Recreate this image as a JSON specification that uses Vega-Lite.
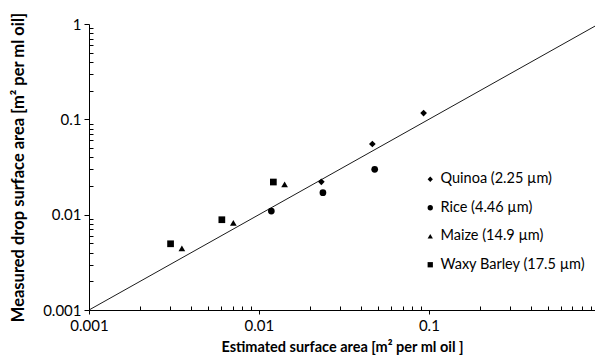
{
  "$schema": "https://vega.github.io/schema/vega-lite/v6.json",
  "width": 506,
  "height": 286,
  "autosize": {"type": "none"},
  "padding": {"left": 89, "top": 24, "right": 0, "bottom": 51},
  "background": "white",
  "config": {
    "font": "Lato",
    "view": {"stroke": null},
    "axis": {"grid": false, "domainColor": "black", "tickColor": "black", "labelColor": "black", "titleColor": "black", "labelFont": "Lato", "titleFont": "Lato"}
  },
  "datasets": {
    "pts": [
      {"x": 0.0233, "y": 0.0221, "series": "Quinoa (2.25 µm)"},
      {"x": 0.0465, "y": 0.0551, "series": "Quinoa (2.25 µm)"},
      {"x": 0.0931, "y": 0.1164, "series": "Quinoa (2.25 µm)"},
      {"x": 0.01183, "y": 0.0109, "series": "Rice (4.46 µm)"},
      {"x": 0.0238, "y": 0.0170, "series": "Rice (4.46 µm)"},
      {"x": 0.048, "y": 0.0299, "series": "Rice (4.46 µm)"},
      {"x": 0.00352, "y": 0.00443, "series": "Maize (14.9 µm)"},
      {"x": 0.00707, "y": 0.00822, "series": "Maize (14.9 µm)"},
      {"x": 0.01416, "y": 0.0208, "series": "Maize (14.9 µm)"},
      {"x": 0.00302, "y": 0.00495, "series": "Waxy Barley (17.5 µm)"},
      {"x": 0.00605, "y": 0.00885, "series": "Waxy Barley (17.5 µm)"},
      {"x": 0.01216, "y": 0.022, "series": "Waxy Barley (17.5 µm)"}
    ],
    "diag": [
      {"x": 0.001, "y": 0.001},
      {"x": 1, "y": 1}
    ]
  },
  "layer": [
    {
      "data": {"name": "diag"},
      "mark": {"type": "line", "color": "black", "strokeWidth": 0.9, "clip": true},
      "encoding": {
        "x": {
          "field": "x", "type": "quantitative",
          "scale": {"type": "log", "domain": [0.001, 0.95], "nice": false},
          "axis": {
            "title": "Estimated surface area [m² per ml oil ]",
            "titleFontSize": 14.5, "titleFontWeight": "bold", "titlePadding": 7,
            "values": [0.001,0.002,0.003,0.004,0.005,0.006,0.007,0.008,0.009,0.01,0.02,0.03,0.04,0.05,0.06,0.07,0.08,0.09,0.1,0.2,0.3,0.4,0.5,0.6,0.7,0.8,0.9],
            "labelExpr": "datum.value==0.001?'0.001':datum.value==0.01?'0.01':datum.value==0.1?'0.1':''",
            "labelFontSize": 15, "labelOverlap": false, "labelBound": false, "labelFlush": false, "labelPadding": 4,
            "tickSize": {"condition": {"test": "datum.value==0.001||datum.value==0.01||datum.value==0.1", "value": 4}, "value": -4},
            "domainWidth": 1
          }
        },
        "y": {
          "field": "y", "type": "quantitative",
          "scale": {"type": "log", "domain": [0.001, 1], "nice": false},
          "axis": {
            "title": "Measured drop  surface area [m² per ml oil]",
            "titleFontSize": 16.5, "titleFontWeight": "bold", "titlePadding": 16,
            "values": [0.001,0.002,0.003,0.004,0.005,0.006,0.007,0.008,0.009,0.01,0.02,0.03,0.04,0.05,0.06,0.07,0.08,0.09,0.1,0.2,0.3,0.4,0.5,0.6,0.7,0.8,0.9,1],
            "labelExpr": "datum.value==0.001?'0.001':datum.value==0.01?'0.01':datum.value==0.1?'0.1':datum.value==1?'1':''",
            "labelFontSize": 15, "labelOverlap": false, "labelBound": false, "labelFlush": false, "labelPadding": 3,
            "tickSize": {"condition": {"test": "datum.value==0.001||datum.value==0.01||datum.value==0.1||datum.value==1", "value": 5}, "value": -4},
            "domainWidth": 1
          }
        }
      }
    },
    {
      "mark": {"type": "rule", "color": "#6b6b6b", "strokeWidth": 1.6},
      "encoding": {"y": {"datum": 1, "type": "quantitative"}}
    },
    {
      "data": {"name": "pts"},
      "mark": {"type": "point", "filled": true, "opacity": 1, "color": "black", "size": 45},
      "encoding": {
        "x": {"field": "x", "type": "quantitative"},
        "y": {"field": "y", "type": "quantitative"},
        "shape": {
          "field": "series", "type": "nominal",
          "scale": {"domain": ["Quinoa (2.25 µm)", "Rice (4.46 µm)", "Maize (14.9 µm)", "Waxy Barley (17.5 µm)"], "range": ["diamond", "circle", "triangle-up", "square"]},
          "legend": {
            "title": null, "orient": "none", "legendX": 334, "legendY": 148,
            "labelFontSize": 14.5, "labelFont": "Lato", "labelColor": "black", "labelLimit": 400,
            "symbolSize": 28, "symbolFillColor": "black", "symbolStrokeColor": "black",
            "rowPadding": 13.5, "labelOffset": 3
          }
        }
      }
    }
  ]
}
